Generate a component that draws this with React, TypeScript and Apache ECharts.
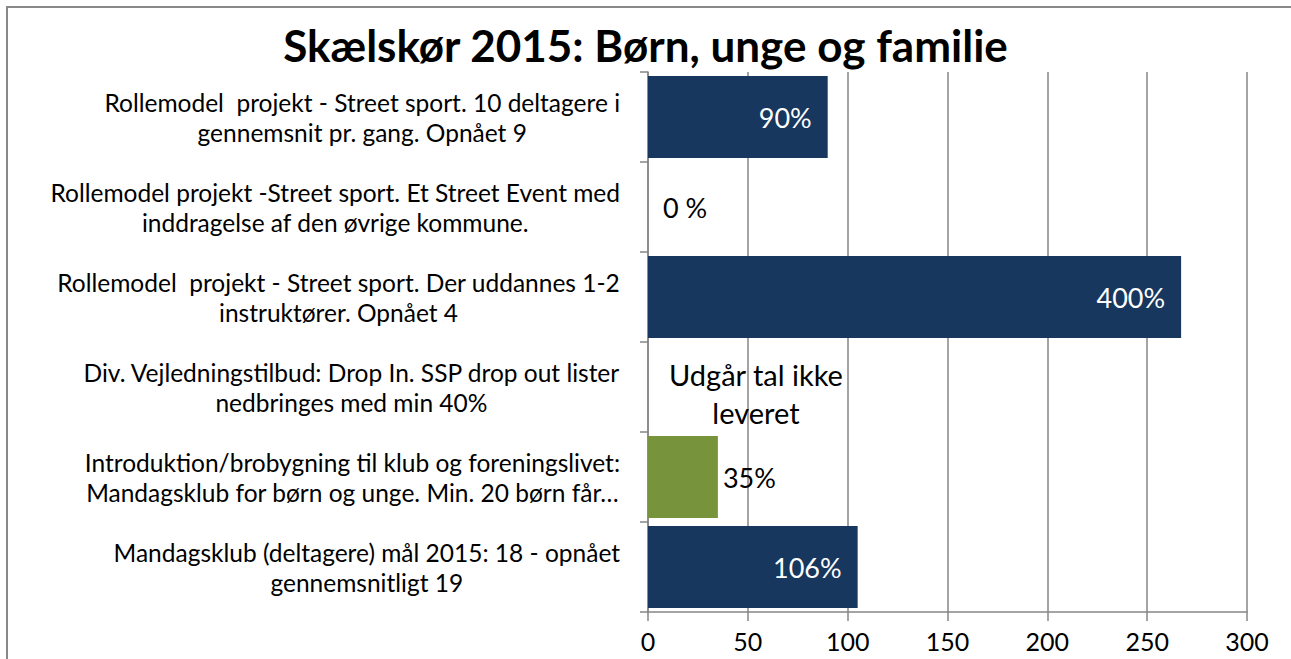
import React, { useEffect, useRef } from "react";
import * as echarts from "echarts";

const titleText = "Skælskør 2015: Børn, unge og familie";

const categories = [
  "Rollemodel  projekt - Street sport. 10 deltagere i\ngennemsnit pr. gang. Opnået 9",
  "Rollemodel projekt -Street sport. Et Street Event med\ninddragelse af den øvrige kommune.",
  "Rollemodel  projekt - Street sport. Der uddannes 1-2\ninstruktører. Opnået 4",
  "Div. Vejledningstilbud: Drop In. SSP drop out lister\nnedbringes med min 40%",
  "Introduktion/brobygning til klub og foreningslivet:\nMandagsklub for børn og unge. Min. 20 børn får…",
  "Mandagsklub (deltagere) mål 2015: 18 - opnået\ngennemsnitligt 19",
];

const values = [90, 0, 267, 0, 35, 105];

const valueLabels = ["90%", "0 %", "400%", "Udgår tal ikke\nleveret", "35%", "106%"];

const barColors = ["#17375E", "#17375E", "#17375E", "#17375E", "#77933C", "#17375E"];

const xTicks = { min: 0, max: 300, interval: 50 };

const FONT = "Lato";

export default function App() {
  const ref = useRef<HTMLDivElement>(null);

  useEffect(() => {
    if (!ref.current) return;
    const chart = echarts.init(ref.current, undefined, { renderer: "svg" });

    const data = values.map((v, i) => {
      const text = valueLabels[i];
      const multi = text.indexOf("\n") >= 0;
      const inside = v >= 50;
      let label: any;
      if (inside) {
        label = {
          show: true,
          position: "insideRight",
          distance: 16,
          color: "#ffffff",
          fontSize: 27,
          fontFamily: FONT,
          formatter: text,
        };
      } else if (multi) {
        label = {
          show: true,
          position: "right",
          distance: 108,
          align: "center",
          offset: [0, 6],
          color: "#000000",
          fontSize: 29,
          lineHeight: 38,
          fontFamily: FONT,
          formatter: text,
        };
      } else {
        label = {
          show: true,
          position: "right",
          distance: v === 0 ? 15 : 5,
          color: "#000000",
          fontSize: 27,
          fontFamily: FONT,
          formatter: text,
        };
      }
      return { value: v, itemStyle: { color: barColors[i] }, label };
    });

    chart.setOption({
      animation: false,
      backgroundColor: "#ffffff",
      title: {
        text: titleText,
        left: "center",
        top: 18,
        textStyle: {
          fontFamily: FONT,
          fontWeight: "bold",
          fontSize: 44,
          color: "#000000",
        },
      },
      grid: { left: 648, right: 44, top: 72, bottom: 47 },
      xAxis: {
        type: "value",
        min: xTicks.min,
        max: xTicks.max,
        interval: xTicks.interval,
        axisLine: { show: true, lineStyle: { color: "#868686", width: 1.5 } },
        axisTick: { show: true, length: 9, lineStyle: { color: "#868686", width: 1.5 } },
        splitLine: { show: true, lineStyle: { color: "#868686", width: 1.5 } },
        axisLabel: { fontFamily: FONT, fontSize: 25, color: "#000000", margin: 16 },
      },
      yAxis: {
        type: "category",
        inverse: true,
        data: categories,
        axisLine: { show: true, lineStyle: { color: "#868686", width: 1.5 } },
        axisTick: { show: true, length: 8, lineStyle: { color: "#868686", width: 1.5 } },
        splitLine: { show: false },
        axisLabel: {
          fontFamily: FONT,
          fontSize: 24.5,
          lineHeight: 30,
          color: "#000000",
          margin: 28,
          align: "right",
          formatter: (val: string) =>
            val
              .split("\n")
              .map((l) => "{c|" + l + "}")
              .join("\n"),
          rich: {
            c: {
              align: "center",
              fontFamily: FONT,
              fontSize: 24.5,
              lineHeight: 30,
              color: "#000000",
            },
          },
        },
      },
      series: [
        {
          type: "bar",
          data,
          barCategoryGap: "9%",
        },
      ],
    });

    return () => chart.dispose();
  }, []);

  return (
    <div
      style={{
        position: "fixed",
        left: 0,
        top: 0,
        width: 1291,
        height: 659,
        background: "#fff",
        overflow: "hidden",
      }}
    >
      <div ref={ref} style={{ position: "absolute", left: 0, top: 0, width: 1291, height: 659 }} />
      <div
        style={{
          position: "absolute",
          left: 6,
          top: 6,
          width: 1400,
          height: 800,
          borderTop: "2px solid #898989",
          borderLeft: "2px solid #898989",
          pointerEvents: "none",
        }}
      />
    </div>
  );
}
